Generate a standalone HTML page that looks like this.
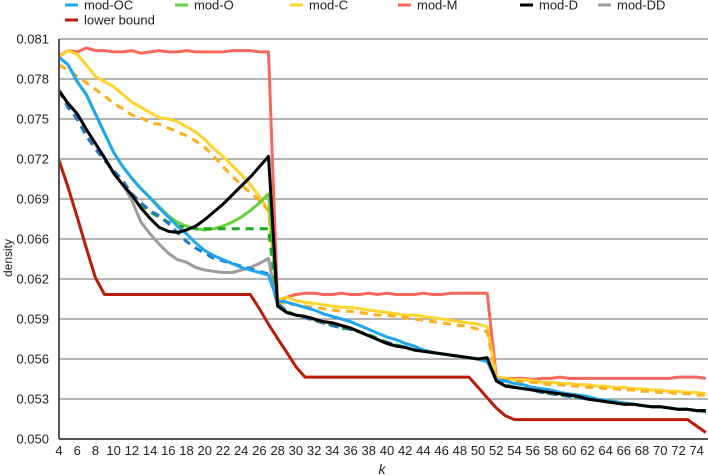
<!DOCTYPE html>
<html><head><meta charset="utf-8"><style>
html,body{margin:0;padding:0;background:#fff}
svg{display:block;font-family:"Liberation Sans",Arial,sans-serif}
</style></head><body>
<svg id="chart" width="708" height="475" viewBox="0 0 708 475">
<g id="grid"></g>
<g id="series"></g>
<g id="axes"></g>
<g id="legend"></g>
<text x="12" y="258" transform="rotate(-90 12 258)" text-anchor="middle" font-size="12" fill="#222">density</text>
<text x="382" y="474" text-anchor="middle" font-size="14" font-style="italic" fill="#222">k</text>
</svg>
<script>
const yTicks = [0.050,0.0531,0.0562,0.0593,0.0624,0.0655,0.0686,0.0717,0.0748,0.0779,0.081];
const yTickLabels = ["0.050","0.053","0.056","0.059","0.062","0.066","0.069","0.072","0.075","0.078","0.081"];
const xTickLabels = [4,6,8,10,12,14,16,18,20,22,24,26,28,30,32,34,36,38,40,42,44,46,48,50,52,54,56,58,60,62,64,66,68,70,72,74];
const kStart = 4, kEnd = 75;
const modOC = [.0796,.0790,.0777,.0767,.0752,.0737,.0722,.0711,.0702,.0694,.0687,.0679,.0672,.0665,.0659,.0652,.0646,.0642,.0639,.0636,.0633,.0631,.0629,.0627,
.0607,.0606,.0604,.0602,.0600,.0597,.0595,.0593,.0591,.0588,.0585,.0582,.0579,.0577,.0574,.0572,.0569,.0567,.0566,.0565,.0564,.0563,.0562,.0560,
.0546,.0545,.0543,.0542,.0540,.0539,.0538,.0536,.0535,.0534,.0533,.0531,.0530,.0529,.0528,.0527,.0526,.0525,.0525,.0524,.0523,.0523,.0522,.0522];
const modOCdash = [.0770,.0757,.0748,.0735,.0725,.0716,.0708,.0700,.0690,.0683,.0677,.0673,.0667,.0660,.0653,.0648,.0644,.0640,.0638,.0636,.0634,.0632,.0630,.0628,
.0605,.0599,.0596,.0594,.0592,.0590,.0588,.0586,.0585,.0583,.0580,.0577,.0575,.0573,.0571,.0569,.0568,.0567,.0566,.0565,.0564,.0563,.0562,.0561,
.0546,.0542,.0540,.0539,.0538,.0536,.0535,.0534,.0533,.0532,.0531,.0530,.0529,.0528,.0527,.0527,.0526,.0525,.0525,.0524,.0523,.0523,.0522,.0521];
const modO = [.0796,.0790,.0777,.0767,.0752,.0737,.0722,.0711,.0702,.0694,.0687,.0680,.0673,.0668,.0665,.0663,.0662,.0663,.0665,.0668,.0672,.0677,.0683,.0690,
.0604,.0598,.0596,.0595,.0593,.0591,.0590,.0588,.0586,.0583,.0580,.0577,.0574,.0572,.0571,.0569,.0568,.0567,.0566,.0565,.0564,.0563,.0562,.0562,
.0545,.0541,.0540,.0539,.0538,.0537,.0536,.0535,.0534,.0533,.0531,.0530,.0529,.0528,.0527,.0527,.0526,.0525,.0525,.0524,.0523,.0523,.0522,.0522];
const modOdash = [.0770,.0757,.0748,.0735,.0725,.0716,.0708,.0700,.0689,.0682,.0676,.0672,.0668,.0665,.0664,.0663,.0663,.0663,.0663,.0663,.0663,.0663,.0663,.0663,
.0605,.0599,.0596,.0594,.0592,.0590,.0588,.0586,.0585,.0583,.0581,.0578,.0575,.0573,.0571,.0569,.0568,.0567,.0566,.0565,.0564,.0563,.0562,.0561,
.0546,.0542,.0540,.0539,.0538,.0536,.0535,.0534,.0533,.0532,.0531,.0530,.0529,.0528,.0527,.0527,.0526,.0525,.0525,.0524,.0523,.0523,.0522,.0521];
const modC = [.0796,.0801,.0798,.0790,.0781,.0777,.0773,.0767,.0761,.0757,.0753,.0749,.0748,.0746,.0742,.0738,.0732,.0725,.0719,.0712,.0705,.0697,.0688,.0677,
.0608,.0610,.0607,.0606,.0605,.0604,.0603,.0602,.0602,.0601,.0600,.0599,.0598,.0597,.0596,.0596,.0595,.0594,.0593,.0592,.0591,.0590,.0589,.0587,
.0548,.0547,.0546,.0546,.0545,.0544,.0544,.0543,.0543,.0542,.0542,.0541,.0541,.0540,.0540,.0539,.0539,.0538,.0538,.0537,.0537,.0536,.0536,.0535];
const modCdash = [.0790,.0786,.0781,.0776,.0771,.0766,.0760,.0756,.0751,.0749,.0745,.0744,.0741,.0738,.0735,.0731,.0726,.0719,.0711,.0704,.0697,.0691,.0685,.0677,
.0606,.0605,.0604,.0603,.0602,.0601,.0600,.0599,.0599,.0598,.0597,.0596,.0596,.0595,.0594,.0593,.0592,.0591,.0590,.0589,.0588,.0587,.0585,.0583,
.0547,.0546,.0545,.0544,.0544,.0543,.0542,.0542,.0541,.0541,.0540,.0540,.0539,.0539,.0538,.0538,.0537,.0537,.0536,.0536,.0535,.0535,.0534,.0534];
const modM = [.0797,.0801,.0800,.0803,.0801,.0801,.0800,.0800,.0801,.0799,.0800,.0801,.0800,.0800,.0801,.0800,.0800,.0800,.0800,.0801,.0801,.0801,.0800,.0800,
.0605,.0610,.0612,.0613,.0613,.0612,.0612,.0613,.0612,.0612,.0613,.0612,.0613,.0612,.0612,.0612,.0613,.0612,.0612,.0613,.0613,.0613,.0613,.0613,
.0548,.0547,.0547,.0547,.0546,.0547,.0547,.0548,.0547,.0547,.0547,.0547,.0547,.0547,.0547,.0547,.0547,.0547,.0547,.0547,.0548,.0548,.0548,.0547];
const modD = [.0770,.0760,.0752,.0740,.0729,.0718,.0706,.0697,.0689,.0679,.0671,.0664,.0661,.0660,.0662,.0665,.0670,.0676,.0682,.0689,.0696,.0703,.0711,.0719,
.0603,.0598,.0596,.0595,.0593,.0591,.0590,.0588,.0586,.0583,.0580,.0577,.0574,.0572,.0571,.0569,.0568,.0567,.0566,.0565,.0564,.0563,.0562,.0563,
.0545,.0541,.0540,.0539,.0538,.0537,.0536,.0535,.0534,.0533,.0531,.0530,.0529,.0528,.0527,.0527,.0526,.0525,.0525,.0524,.0523,.0523,.0522,.0522];
const modDD = [.0770,.0760,.0752,.0740,.0729,.0718,.0706,.0697,.0685,.0668,.0659,.0651,.0644,.0639,.0637,.0633,.0631,.0630,.0629,.0629,.0631,.0633,.0636,.0640,
.0603,.0598,.0596,.0595,.0593,.0591,.0590,.0588,.0586,.0583,.0580,.0577,.0574,.0572,.0571,.0569,.0568,.0567,.0566,.0565,.0564,.0563,.0562,.0562,
.0545,.0541,.0540,.0539,.0538,.0537,.0536,.0535,.0534,.0533,.0531,.0530,.0529,.0528,.0527,.0527,.0526,.0525,.0525,.0524,.0523,.0523,.0522,.0522];
const lowerBound = [.0716,.0695,.0672,.0648,.0625,.0612,.0612,.0612,.0612,.0612,.0612,.0612,.0612,.0612,.0612,.0612,.0612,.0612,.0612,.0612,.0612,.0612,.0601,.0589,
.0578,.0567,.0556,.0548,.0548,.0548,.0548,.0548,.0548,.0548,.0548,.0548,.0548,.0548,.0548,.0548,.0548,.0548,.0548,.0548,.0548,.0548,.0540,.0532,
.0524,.0518,.0515,.0515,.0515,.0515,.0515,.0515,.0515,.0515,.0515,.0515,.0515,.0515,.0515,.0515,.0515,.0515,.0515,.0515,.0515,.0515,.0510,.0505];

const NS='http://www.w3.org/2000/svg';
const X0=59, XSTEP=9.11, Y0=439, YH=400, VMIN=0.050, VMAX=0.081;
function xs(k){return X0+(k-kStart)*XSTEP;}
function ys(v){return Y0-(v-VMIN)/(VMAX-VMIN)*YH;}
function mk(tag,attrs,parent){const e=document.createElementNS(NS,tag);for(const a in attrs)e.setAttribute(a,attrs[a]);parent.appendChild(e);return e;}

const grid=document.getElementById('grid'), axes=document.getElementById('axes');
yTicks.forEach((t,i)=>{
  const y=ys(t);
  if(i>0){const g=mk('line',{x1:X0,x2:708,y1:y,y2:y,stroke:'#9a9a9a','stroke-width':1.5},grid);
  
  }
  const tx=mk('text',{x:49,y:y+4.5,'text-anchor':'end','font-size':13,fill:'#222'},axes);
  tx.textContent=yTickLabels[i];
  
  
});
xTickLabels.forEach(k=>{
  const tx=mk('text',{x:xs(k),y:455,'text-anchor':'middle','font-size':13,fill:'#222'},axes);
  tx.textContent=k;
  
  
});
const ya=mk('line',{x1:X0,x2:X0,y1:ys(VMAX),y2:Y0,stroke:'#555','stroke-width':2},axes);


const xa=mk('line',{x1:X0,x2:708,y1:Y0,y2:Y0,stroke:'#555','stroke-width':2},axes);



const seriesG=document.getElementById('series');
function draw(vals,color,dash,name){
  const pts=vals.map((v,i)=>xs(kStart+i).toFixed(1)+','+ys(v).toFixed(1)).join(' ');
  const p=mk('polyline',{points:pts,fill:'none',stroke:color,'stroke-width':3,'stroke-linejoin':'round'},seriesG);
  if(dash)p.setAttribute('stroke-dasharray','8 6');
  
  
}
draw(lowerBound,'#b81d0a',false,'line-lower-bound');
draw(modM,'#f8685a',false,'line-mod-m');
draw(modC,'#ffd42e',false,'line-mod-c');
draw(modCdash,'#ffae1c',true,'line-mod-c-dashed');
draw(modDD,'#9c9c9c',false,'line-mod-dd');
draw(modO,'#66d23c',false,'line-mod-o');
draw(modOdash,'#1ea81e',true,'line-mod-o-dashed');
draw(modOCdash,'#1f78c8',true,'line-mod-oc-dashed');
draw(modOC,'#1ea6f0',false,'line-mod-oc');
draw(modD,'#000000',false,'line-mod-d');

const legend=document.getElementById('legend');
const legendItems=[['mod-OC','#1ea6f0',65,5],['mod-O','#66d23c',175,5],['mod-C','#ffd42e',290,5],['mod-M','#f8685a',398,5],['mod-D','#000000',520,5],['mod-DD','#9c9c9c',598,5],['lower bound','#b81d0a',65,20]];
legendItems.forEach(it=>{
  const g=mk('g',{},legend);
  
  
  mk('line',{x1:it[2],x2:it[2]+13,y1:it[3],y2:it[3],stroke:it[1],'stroke-width':3},g);
  const t=mk('text',{x:it[2]+19,y:it[3]+4.5,'font-size':13,fill:'#222'},g);
  t.textContent=it[0];
});
</script>
</body></html>
